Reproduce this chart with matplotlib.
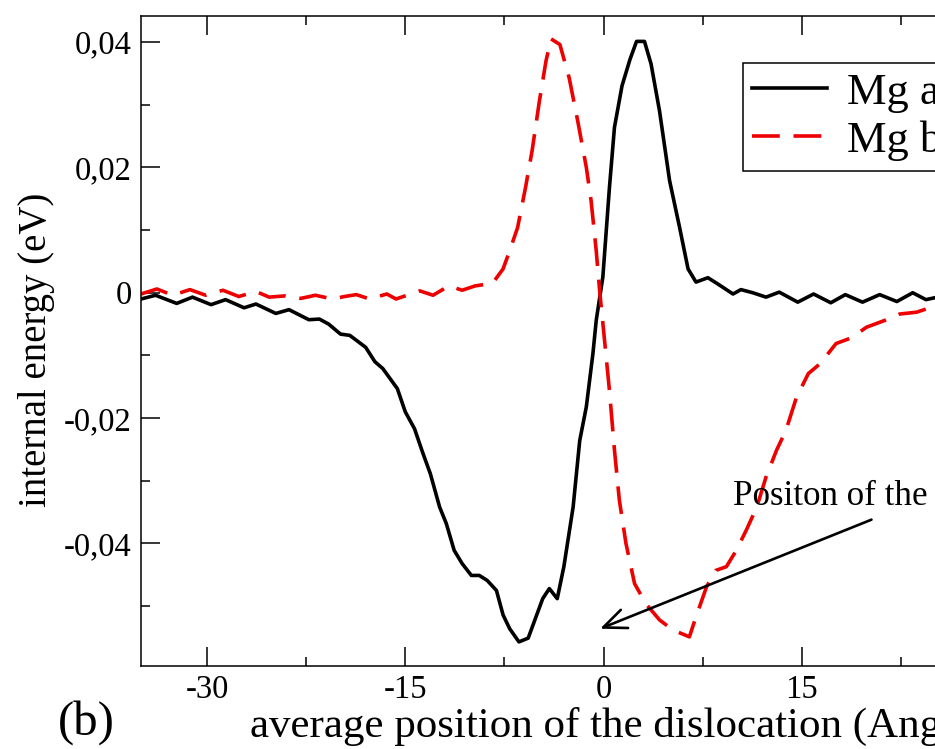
import matplotlib
matplotlib.use("Agg")
import matplotlib.pyplot as plt
from matplotlib.ticker import FixedLocator, FuncFormatter

plt.rcParams['font.family'] = ['Liberation Serif', 'DejaVu Serif']
plt.rcParams['axes.unicode_minus'] = False

# Mg a (solid black)
x_a = [-35, -33.9, -32.3, -31.1, -29.7, -28.6, -27.2, -26.3, -24.8, -23.8, -22.3, -21.5,
       -20.8, -19.9, -19.2, -18.0, -17.3, -16.7, -15.6, -15.0, -14.3, -13.7, -13.1, -12.4,
       -11.9, -11.3, -10.7, -10.0, -9.4, -8.8, -8.1, -7.6, -7.1, -6.4, -5.7, -4.6, -4.1,
       -3.5, -3.0, -2.3, -1.8, -1.3, -0.8, -0.55, -0.05, 0.45, 0.83, 1.4, 2.0, 2.5, 3.1,
       3.6, 4.24, 5.0, 5.76, 6.4, 7.0, 7.9, 8.65, 9.8, 10.4, 11.3, 12.3, 13.3, 14.7,
       15.9, 17.2, 18.3, 19.6, 20.9, 22.2, 23.4, 24.4, 25.5]
y_a = [-0.0010, -0.0004, -0.0017, -0.0007, -0.0019, -0.0011, -0.0024, -0.0018, -0.0033,
       -0.0027, -0.0043, -0.0042, -0.0050, -0.0066, -0.0068, -0.0087, -0.0110, -0.0121,
       -0.0153, -0.0190, -0.0217, -0.0254, -0.0289, -0.0342, -0.0368, -0.0411, -0.0432,
       -0.0451, -0.0451, -0.0459, -0.0475, -0.0514, -0.0536, -0.0557, -0.0551, -0.0488,
       -0.0472, -0.0488, -0.0437, -0.0342, -0.0236, -0.0182, -0.0097, -0.0044, 0.0025,
       0.0168, 0.0264, 0.0330, 0.0372, 0.0401, 0.0401, 0.0365, 0.0290, 0.0179, 0.0104,
       0.0038, 0.0017, 0.0024, 0.0014, -0.0002, 0.0005, 0.0000, -0.0007, 0.0001, -0.0015,
       -0.0002, -0.0016, -0.0003, -0.0015, -0.0003, -0.0014, 0.0000, -0.0011, -0.0006]

# Mg b (dashed red)
x_b = [-35, -33.8, -32.6, -31.3, -30.1, -28.8, -27.6, -26.3, -25.3, -24.1, -22.9, -21.8,
       -20.5, -19.6, -18.7, -17.7, -16.4, -15.7, -13.9, -12.9, -11.7, -10.7, -9.7, -8.4,
       -7.6, -7.1, -6.5, -5.9, -5.4, -4.85, -4.35, -3.97, -3.3, -2.6, -1.95, -1.3, -0.94,
       -0.55, -0.3, 0.08, 0.45, 0.83, 1.2, 1.7, 2.35, 3.2, 4.24, 5.25, 6.5, 7.0, 7.8, 8.5,
       9.3, 10.05, 10.8, 11.6, 12.3, 13.1, 13.8, 14.6, 15.5, 16.4, 17.6, 18.75, 19.9,
       21.3, 22.4, 23.7, 24.4, 25.5]
y_b = [-0.0002, 0.0006, -0.0004, 0.0005, -0.0004, 0.0004, -0.0006, 0.0002, -0.0007,
       -0.0005, -0.0009, -0.0004, -0.0010, -0.0006, -0.0003, -0.0010, -0.0002, -0.0010,
       0.0003, -0.0004, 0.0011, 0.0004, 0.0011, 0.0015, 0.0038, 0.0067, 0.0104, 0.0168,
       0.0227, 0.0306, 0.0370, 0.0405, 0.0396, 0.0343, 0.0274, 0.0200, 0.0147, 0.0067,
       0.0005, -0.0076, -0.0156, -0.0251, -0.0331, -0.0400, -0.0464, -0.0496, -0.0522,
       -0.0538, -0.0549, -0.0517, -0.0469, -0.0443, -0.0437, -0.0411, -0.0379, -0.0342,
       -0.0294, -0.0251, -0.0220, -0.0167, -0.0129, -0.0113, -0.0081, -0.0072, -0.0055,
       -0.0044, -0.0034, -0.0031, -0.0026, -0.0022]

x_major = [-30, -15, 0, 15, 30]
x_minor = [-22.5, -7.5, 7.5, 22.5]
y_major = [-0.04, -0.02, 0, 0.02, 0.04]
y_minor = [-0.05, -0.03, -0.01, 0.01, 0.03]

label_a = "Mg above"
label_b = "Mg below"

W, H = 935, 749
fig = plt.figure(figsize=(W / 100, H / 100), dpi=100)
ax = fig.add_axes([141 / W, 1 - 665.7 / H, (1066 - 141) / W, (665.7 - 15.7) / H])

ax.plot(x_a, y_a, color='black', lw=2.6, label=label_a)
ax.plot(x_b, y_b, color='#ee0000', lw=2.6, dashes=(7.7, 3.8), label=label_b)

ax.set_xlim(-35, 35)
ax.set_ylim(-0.0595, 0.0442)

ax.xaxis.set_major_locator(FixedLocator(x_major))
ax.xaxis.set_minor_locator(FixedLocator(x_minor))
ax.yaxis.set_major_locator(FixedLocator(y_major))
ax.yaxis.set_minor_locator(FixedLocator(y_minor))
ax.xaxis.set_major_formatter(FuncFormatter(lambda v, p: f"{v:.0f}"))
ax.yaxis.set_major_formatter(FuncFormatter(
    lambda v, p: "0" if abs(v) < 1e-9 else f"{v:.2f}".replace('.', ',')))

ax.tick_params(which='both', direction='in', top=True, right=True, width=1.1)
ax.tick_params(which='major', length=13.5, labelsize=23.5)
ax.tick_params(axis='x', which='major', pad=6.5)
ax.tick_params(axis='y', which='major', pad=6.5)
ax.tick_params(which='minor', length=6.5)
for s in ax.spines.values():
    s.set_linewidth(1.1)

leg = ax.legend(loc='upper left', bbox_to_anchor=(742.7 / W, 1 - 62.7 / H),
                bbox_transform=fig.transFigure, fontsize=32, frameon=True,
                fancybox=False, framealpha=1, edgecolor='black', borderaxespad=0,
                handlelength=1.67, handletextpad=0.45, borderpad=0.22, labelspacing=0.17)
leg.get_frame().set_linewidth(1.1)

ax.text(9.77, -0.0339, "Positon of the dislocation", fontsize=25.2, ha='left', va='baseline')
ax.annotate("", xy=(-0.26, -0.0536), xytext=(20.28, -0.0362),
            arrowprops=dict(arrowstyle='->,head_length=0.75,head_width=0.32', lw=1.9,
                            color='black', mutation_scale=22, shrinkA=0, shrinkB=0))

fig.text(250 / W, 1 - 737 / H, "average position of the dislocation (Angstrom)",
         fontsize=31, ha='left', va='baseline')
fig.text(37 / W, 1 - 350 / H, "internal energy (eV)", fontsize=28, rotation=90,
         ha='center', va='center')
fig.text(58 / W, 1 - 735 / H, "(b)", fontsize=35, ha='left', va='baseline')

fig.savefig("out.png", dpi=100)
